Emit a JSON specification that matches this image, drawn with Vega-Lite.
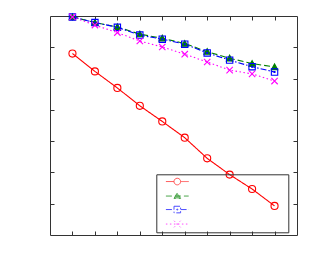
{
  "$schema": "https://vega.github.io/schema/vega-lite/v6.json",
  "width": 247,
  "height": 219,
  "autosize": {"type": "none"},
  "padding": {"left": 50, "top": 16, "right": 16, "bottom": 28},
  "background": "white",
  "config": {
    "view": {"stroke": "#333333", "strokeWidth": 1},
    "axis": {"labels": false, "domain": false, "grid": false, "title": null, "tickSize": -4, "tickColor": "#333333", "tickWidth": 1},
    "legend": {
      "orient": "none",
      "legendX": 106.3,
      "legendY": 158.3,
      "padding": 2.25,
      "strokeColor": "#333333",
      "symbolSize": 36,
      "symbolStrokeWidth": 1,
      "symbolOffset": 13.75,
      "labelOffset": 103,
      "labelFontSize": 10,
      "rowPadding": 2.5,
      "title": null
    }
  },
  "data": {
    "values": [
      {"x": 1, "y": 5.80, "s": "A"}, {"x": 2, "y": 5.23, "s": "A"}, {"x": 3, "y": 4.70, "s": "A"}, {"x": 4, "y": 4.13, "s": "A"}, {"x": 5, "y": 3.63, "s": "A"},
      {"x": 6, "y": 3.11, "s": "A"}, {"x": 7, "y": 2.45, "s": "A"}, {"x": 8, "y": 1.93, "s": "A"}, {"x": 9, "y": 1.47, "s": "A"}, {"x": 10, "y": 0.93, "s": "A"},
      {"x": 1, "y": 6.97, "s": "B"}, {"x": 2, "y": 6.79, "s": "B"}, {"x": 3, "y": 6.65, "s": "B"}, {"x": 4, "y": 6.42, "s": "B"}, {"x": 5, "y": 6.29, "s": "B"},
      {"x": 6, "y": 6.12, "s": "B"}, {"x": 7, "y": 5.86, "s": "B"}, {"x": 8, "y": 5.65, "s": "B"}, {"x": 9, "y": 5.48, "s": "B"}, {"x": 10, "y": 5.37, "s": "B"},
      {"x": 1, "y": 6.97, "s": "C"}, {"x": 2, "y": 6.79, "s": "C"}, {"x": 3, "y": 6.64, "s": "C"}, {"x": 4, "y": 6.39, "s": "C"}, {"x": 5, "y": 6.26, "s": "C"},
      {"x": 6, "y": 6.10, "s": "C"}, {"x": 7, "y": 5.82, "s": "C"}, {"x": 8, "y": 5.59, "s": "C"}, {"x": 9, "y": 5.38, "s": "C"}, {"x": 10, "y": 5.21, "s": "C"},
      {"x": 1, "y": 6.97, "s": "D"}, {"x": 2, "y": 6.71, "s": "D"}, {"x": 3, "y": 6.47, "s": "D"}, {"x": 4, "y": 6.20, "s": "D"}, {"x": 5, "y": 6.01, "s": "D"},
      {"x": 6, "y": 5.78, "s": "D"}, {"x": 7, "y": 5.53, "s": "D"}, {"x": 8, "y": 5.27, "s": "D"}, {"x": 9, "y": 5.15, "s": "D"}, {"x": 10, "y": 4.92, "s": "D"}
    ]
  },
  "layer": [
    {
      "transform": [{"filter": "datum.x > 100"}],
      "mark": {"type": "point", "filled": false, "strokeWidth": 1},
      "encoding": {
        "x": {"field": "x", "type": "quantitative", "axis": null},
        "y": {"field": "y", "type": "quantitative", "axis": null},
        "stroke": {"field": "s", "type": "nominal", "scale": {"domain": ["A", "B", "C", "D"], "range": ["#ff0000", "#008000", "#0000ff", "#ff00ff"]}, "legend": {"labelExpr": "''"}},
        "fill": {"field": "s", "type": "nominal", "scale": {"domain": ["A", "B", "C", "D"], "range": ["transparent", "#008000", "transparent", "transparent"]}, "legend": {"labelExpr": "''"}},
        "strokeDash": {"field": "s", "type": "nominal", "scale": {"domain": ["A", "B", "C", "D"], "range": [[1, 0], [6, 3], [6, 2, 1.5, 2], [1.5, 2.5]]}, "legend": {"labelExpr": "''"}},
        "shape": {"field": "s", "type": "nominal", "scale": {"domain": ["A", "B", "C", "D"], "range": [
          "M-3.8,0H-1.1A1.1,1.1,0,1,1,1.1,0A1.1,1.1,0,1,1,-1.1,0M1.1,0H3.8",
          "M-3.8,0H3.8M-1.1,0.8L0,-1.1L1.1,0.8Z",
          "M-3.8,0H-1.1M1.1,0H3.8M-1.1,-1.1H1.1V1.1H-1.1ZM-0.15,-0.15H0.15V0.15H-0.15Z",
          "M-3.8,0H3.8M-1.1,-1.1L1.1,1.1M-1.1,1.1L1.1,-1.1"
        ]}, "legend": {"labelExpr": "''"}}
      }
    },
    {
      "mark": {"type": "line", "strokeWidth": 1.1, "clip": false},
      "encoding": {
        "x": {"field": "x", "type": "quantitative", "scale": {"domain": [0, 11], "nice": false, "zero": false}, "axis": {"orient": "bottom", "values": [1, 2, 3, 4, 5, 6, 7, 8, 9, 10]}},
        "y": {"field": "y", "type": "quantitative", "scale": {"domain": [0, 7], "nice": false, "zero": false}, "axis": {"orient": "left", "values": [1, 2, 3, 4, 5, 6]}},
        "stroke": {"field": "s", "type": "nominal", "scale": {"domain": ["A", "B", "C", "D"], "range": ["#ff0000", "#008000", "#0000ff", "#ff00ff"]}, "legend": null},
        "strokeDash": {"field": "s", "type": "nominal", "scale": {"domain": ["A", "B", "C", "D"], "range": [[1, 0], [6, 3], [6, 2, 1.5, 2], [1.5, 2.5]]}, "legend": null}
      }
    },
    {
      "mark": {"type": "point", "filled": false, "size": 50, "strokeWidth": 1.1, "opacity": 1, "clip": false},
      "encoding": {
        "x": {"field": "x", "type": "quantitative", "axis": null},
        "y": {"field": "y", "type": "quantitative", "axis": null},
        "stroke": {"field": "s", "type": "nominal", "scale": {"domain": ["A", "B", "C", "D"], "range": ["#ff0000", "#008000", "#0000ff", "#ff00ff"]}, "legend": null},
        "fill": {"field": "s", "type": "nominal", "scale": {"domain": ["A", "B", "C", "D"], "range": ["transparent", "#008000", "transparent", "transparent"]}, "legend": null},
        "shape": {"field": "s", "type": "nominal", "scale": {"domain": ["A", "B", "C", "D"], "range": ["circle", "M-0.9,0.75L0,-0.85L0.9,0.75Z", "M-0.9,-0.9H0.9V0.9H-0.9ZM-0.12,-0.12H0.12V0.12H-0.12Z", "M-0.9,-0.9L0.9,0.9M-0.9,0.9L0.9,-0.9"]}, "legend": null}
      }
    },
    {
      "transform": [{"filter": "datum.x > 100"}],
      "mark": {"type": "point"},
      "encoding": {
        "x": {"field": "x", "type": "quantitative", "axis": {"orient": "top", "values": [1, 2, 3, 4, 5, 6, 7, 8, 9, 10]}},
        "y": {"field": "y", "type": "quantitative", "axis": {"orient": "right", "values": [1, 2, 3, 4, 5, 6]}}
      }
    }
  ],
  "resolve": {
    "scale": {"stroke": "independent", "fill": "independent", "shape": "independent", "strokeDash": "independent"},
    "axis": {"x": "independent", "y": "independent"}
  }
}
